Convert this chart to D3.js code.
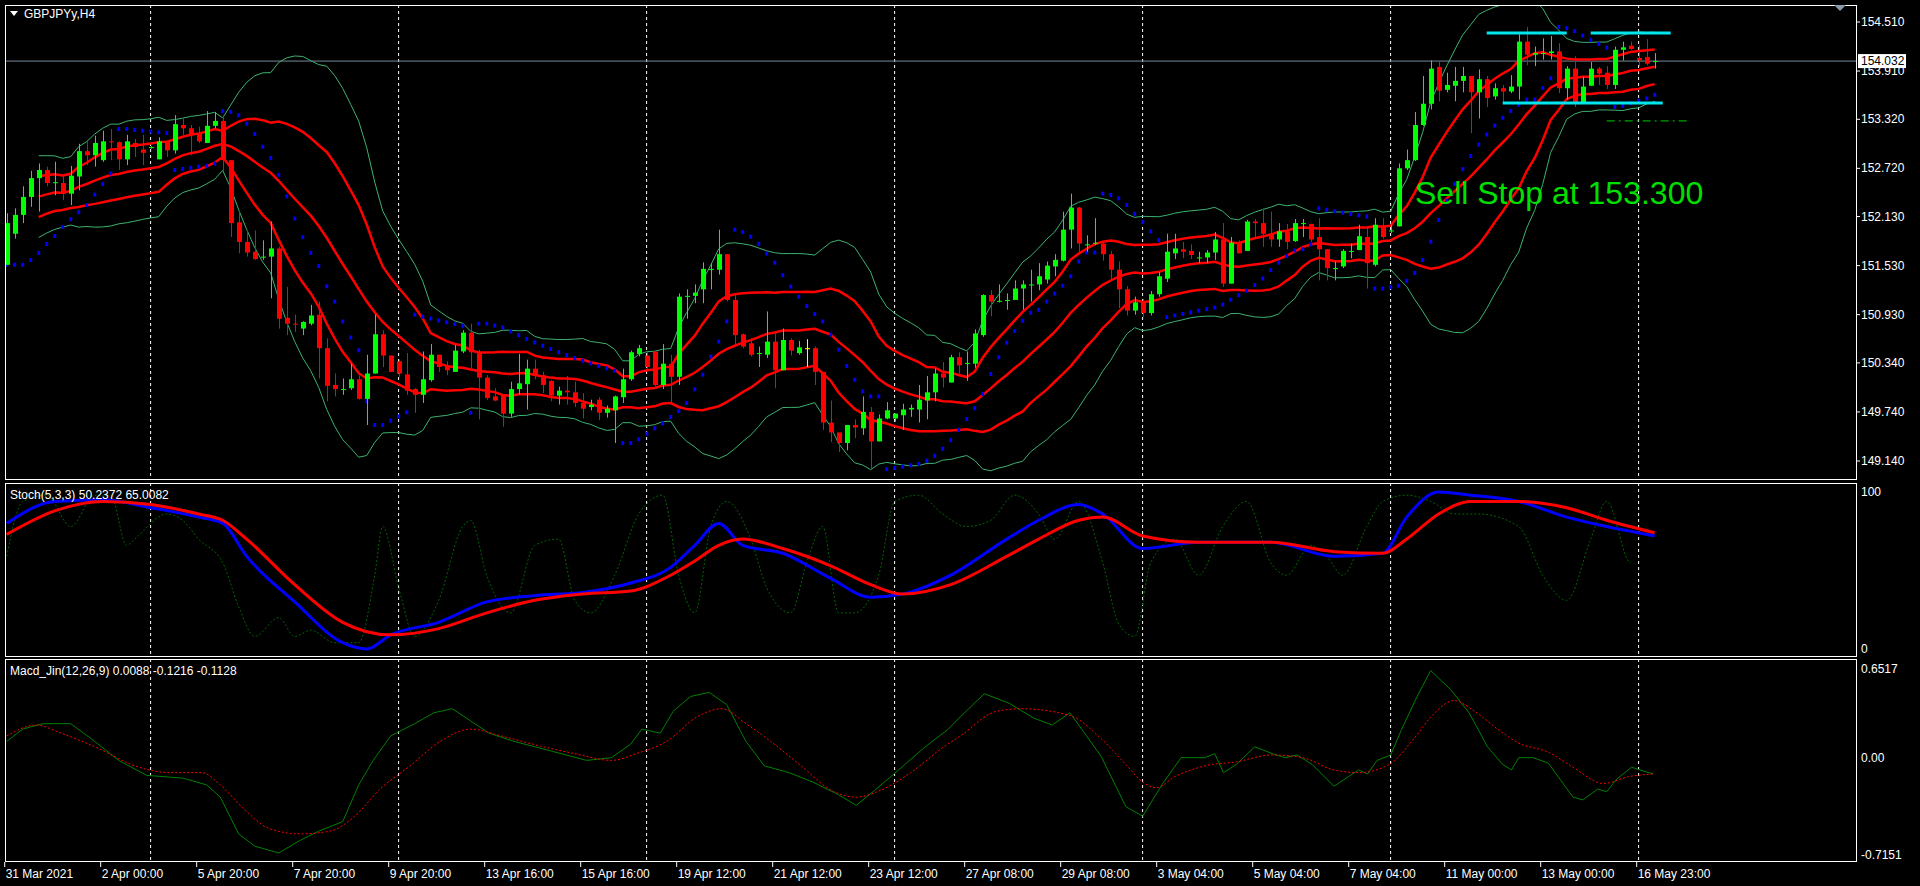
<!DOCTYPE html>
<html><head><meta charset="utf-8">
<script src="https://cdn.jsdelivr.net/npm/d3@7/dist/d3.min.js"></script>
<style>html,body{margin:0;padding:0;background:#000;overflow:hidden}svg{display:block}text{font-family:"Liberation Sans",Arial,sans-serif}</style>
</head><body><svg id="c" width="1920" height="886"></svg>
<script>
const opens=[151.54,151.92,152.15,152.37,152.60,152.70,152.54,152.54,152.41,152.62,
152.93,152.88,152.82,153.05,153.04,152.83,153.03,152.95,152.98,152.83,
153.05,152.94,153.25,153.21,153.14,153.03,153.24,153.30,152.82,152.06,
151.82,151.70,151.63,151.64,151.74,150.89,150.82,150.76,150.82,150.93,
150.52,150.07,150.01,150.03,150.14,149.90,150.21,150.69,150.43,150.36,
150.20,150.02,149.95,150.13,150.44,150.30,150.23,150.48,150.71,150.47,
150.16,149.93,149.94,149.72,150.02,150.08,150.27,150.19,150.12,149.94,
150.00,149.98,149.85,149.80,149.89,149.73,149.76,149.92,150.14,150.45,
150.43,150.48,150.07,150.33,150.17,151.15,151.16,151.24,151.49,151.48,
151.67,151.11,150.69,150.58,150.46,150.44,150.60,150.25,150.62,150.46,
150.52,150.52,150.23,149.61,149.49,149.36,149.58,149.54,149.74,149.38,
149.66,149.66,149.70,149.77,149.77,149.88,149.98,150.21,150.10,150.41,
150.34,150.33,150.68,151.17,151.10,151.11,151.11,151.25,151.30,151.30,
151.36,151.52,151.59,151.97,152.24,151.79,151.80,151.80,151.67,151.48,
151.24,150.98,151.08,150.95,151.18,151.37,151.68,151.73,151.71,151.62,
151.63,151.69,151.85,151.31,151.82,151.71,152.07,152.05,151.92,151.85,
151.95,151.83,152.05,152.04,151.88,151.73,151.50,151.52,151.71,151.72,
151.88,151.54,152.01,151.96,152.01,152.72,152.82,153.25,153.51,153.96,
153.68,153.73,153.79,153.85,153.65,153.81,153.60,153.70,153.66,153.72,
154.27,154.11,154.13,154.13,154.15,153.70,153.94,153.52,153.73,153.94,
153.89,153.74,154.17,154.22,154.07,154.08,154.03];
const closes=[152.05,152.15,152.37,152.60,152.70,152.54,152.55,152.41,152.63,152.93,
152.88,153.03,153.05,153.04,152.83,153.05,152.98,152.91,152.98,153.05,
152.94,153.26,153.21,153.14,153.05,153.24,153.30,152.82,152.05,151.82,
151.69,151.61,151.64,151.74,150.88,150.82,150.81,150.84,150.92,150.52,
150.06,150.02,150.02,150.14,149.90,150.21,150.69,150.43,150.23,150.21,
150.00,149.95,150.14,150.44,150.29,150.25,150.49,150.71,150.47,150.16,
149.91,149.88,149.72,150.02,150.09,150.27,150.19,150.07,149.94,150.00,
149.98,149.85,149.78,149.83,149.73,149.78,149.93,150.14,150.47,150.52,
150.29,150.07,150.33,150.17,151.15,151.16,151.20,151.49,151.49,151.67,
151.11,150.68,150.54,150.44,150.46,150.60,150.25,150.62,150.49,150.53,
150.52,150.23,149.61,149.49,149.36,149.58,149.55,149.74,149.38,149.66,
149.76,149.72,149.77,149.79,149.89,149.98,150.21,150.16,150.41,150.31,
150.34,150.70,151.17,151.09,151.10,151.11,151.25,151.30,151.30,151.40,
151.53,151.60,151.97,152.24,151.80,151.79,151.81,151.67,151.48,151.24,
150.98,151.08,150.95,151.18,151.40,151.70,151.74,151.70,151.66,151.63,
151.69,151.85,151.31,151.81,151.68,152.07,152.05,151.92,151.85,151.95,
151.82,152.05,152.05,151.85,151.73,151.50,151.50,151.71,151.71,151.89,
151.56,152.03,151.88,151.96,152.72,152.82,153.25,153.51,153.94,153.67,
153.74,153.79,153.85,153.65,153.81,153.58,153.70,153.66,153.72,154.27,
154.11,154.13,154.13,154.15,153.70,153.94,153.52,153.72,153.94,153.88,
153.74,154.17,154.20,154.18,154.04,154.00,154.032];
const highs=[152.17,152.23,152.50,152.69,152.78,152.74,152.80,152.64,152.75,153.02,
153.07,153.12,153.18,153.20,153.05,153.13,153.08,153.13,152.99,153.10,
153.05,153.37,153.33,153.25,153.23,153.42,153.41,153.37,152.82,152.21,
151.96,151.96,151.84,152.07,151.76,151.27,150.93,150.85,151.05,151.09,
150.64,150.21,150.15,150.33,150.19,150.44,150.93,150.74,150.43,150.38,
150.46,150.03,150.48,150.57,150.44,150.36,150.56,150.74,150.82,150.50,
150.19,150.03,149.95,150.11,150.45,150.38,150.38,150.23,150.13,150.05,
150.18,150.11,149.97,149.89,149.92,149.82,149.94,150.27,150.49,150.56,
150.48,150.49,150.57,150.44,151.19,151.24,151.30,151.57,151.56,151.97,
151.67,151.19,150.70,150.64,150.54,150.97,150.70,150.76,150.64,150.61,
150.63,150.54,150.23,149.88,149.48,149.58,149.65,149.93,149.80,149.71,
149.86,149.72,149.84,149.83,150.07,150.18,150.27,150.35,150.44,150.47,
150.48,150.75,151.18,151.23,151.30,151.19,151.35,151.35,151.48,151.56,
151.58,151.67,152.19,152.41,152.25,151.90,152.11,151.82,151.71,151.58,
151.28,151.15,151.12,151.22,151.45,151.92,151.92,151.82,151.79,151.70,
151.72,151.94,152.05,151.88,151.84,152.09,152.10,152.23,152.19,152.05,
152.04,152.10,152.10,152.04,152.11,151.73,151.58,151.73,151.80,152.03,
152.01,152.11,152.11,152.03,152.78,152.95,153.41,153.85,154.04,154.03,
153.89,153.96,153.96,153.85,153.93,153.85,153.76,153.74,153.86,154.36,
154.45,154.21,154.31,154.34,154.25,153.97,154.09,153.84,154.02,153.96,
153.97,154.21,154.27,154.27,154.23,154.30,154.13];
const lows=[151.54,151.86,152.05,152.25,152.19,152.50,152.39,152.33,152.27,152.45,
152.76,152.74,152.80,152.82,152.70,152.76,152.86,152.76,152.96,152.83,
152.86,152.90,153.13,152.88,153.03,153.03,153.21,152.68,151.88,151.68,
151.64,151.60,151.60,151.13,150.76,150.68,150.72,150.68,150.80,150.15,
149.87,149.93,149.95,150.01,149.89,149.58,150.21,150.29,150.23,150.17,
149.95,149.73,149.85,150.11,150.23,150.19,150.23,150.46,150.27,149.65,
149.89,149.87,149.56,149.68,149.95,149.77,150.14,149.97,149.87,149.83,
149.83,149.80,149.66,149.76,149.64,149.67,149.36,149.85,150.12,150.42,
150.27,150.05,150.02,149.85,150.07,150.88,151.07,151.07,151.24,151.42,
151.09,150.56,150.52,150.42,150.29,150.40,150.03,150.25,150.43,150.44,
150.29,150.07,149.52,149.37,149.25,149.27,149.42,149.46,149.04,149.38,
149.65,149.62,149.52,149.68,149.61,149.65,149.87,150.04,150.10,150.21,
150.12,150.28,150.66,150.91,151.08,150.99,151.11,150.99,151.09,151.23,
151.31,151.40,151.58,151.74,151.69,151.70,151.78,151.59,151.36,151.01,
150.92,150.93,150.90,150.92,151.15,151.33,151.61,151.62,151.61,151.56,
151.56,151.60,151.27,151.31,151.68,151.71,151.86,151.76,151.76,151.76,
151.73,151.82,151.88,151.82,151.35,151.35,151.35,151.50,151.62,151.72,
151.25,151.52,151.86,151.93,152.01,152.70,152.81,153.24,153.44,153.54,
153.65,153.54,153.65,153.15,153.33,153.47,153.56,153.51,153.64,153.56,
153.98,153.97,154.05,154.05,153.64,153.56,153.47,153.51,153.73,153.74,
153.69,153.69,154.04,154.17,153.97,153.98,153.94];
const highlightBar=100;
// Stochastic (at bar positions)
const stochMainBars=[0,6,12,18,24,27,30,36,42,45,48,54,60,66,72,78,83,86,89,92,97,103,108,112,118,125,129,134,137,142,149,158,166,172,175,179,183,189,195,200,206];
const stochMainVals=[80,94,95,90,84,80,59,30,4,0,9,17,30,34,36,42,52,66,80,66,61,45,33,35,47,70,82,92,86,64,68,68,59,61,84,100,98,94,84,78,72];
const stochSigBars=[0,6,12,18,24,27,30,36,42,48,54,60,66,72,78,83,86,89,92,97,103,108,112,118,125,129,134,137,142,149,158,166,172,175,179,183,189,195,200,206];
const stochSigVals=[73,88,94,92,86,82,70,41,17,9,13,23,31,35,37,47,56,66,70,64,53,41,35,41,59,70,82,84,72,68,68,62,61,70,86,94,94,90,82,74];
const stochFastBars=[0,2,5,8,11,13,15,16,20,22,24,27,29,31,34,36,38,41,44,46,47,49,51,54,57,58,60,63,66,69,71,73,76,79,82,84,86,88,90,93,95,98,100,102,104,106,109,111,114,117,120,123,126,129,131,134,137,139,141,143,146,149,152,155,158,160,163,165,167,170,172,175,178,181,184,189,192,195,198,200,203,206];
const stochFastVals=[59,94,98,78,98,98,66,70,86,82,70,55,27,8,20,8,12,4,4,47,78,39,8,31,78,82,47,23,66,70,31,23,47,86,98,47,23,78,94,70,39,23,55,78,23,23,47,94,98,86,78,82,98,86,70,94,55,16,8,55,70,47,78,94,55,47,66,59,47,78,94,98,94,86,86,78,47,31,70,94,55];
// MACD (at bar positions)
const macdBars=[0,2,4.5,8,11,14,17.5,22,25,26.7,29,31,34,36.6,39,42,44,45.8,48,51,53.4,55.7,58,60.3,63.4,68,72.5,75.6,78,79.4,81.7,83.3,85.5,87.8,90,92.4,94.7,97.8,100.8,103.9,106.2,108.5,111.5,114.6,117.7,119.2,122.2,125.3,128.4,130.7,132.9,136.8,139.9,142,144.5,146.8,149.8,151,152.1,153.7,156,158.2,159.8,161.3,163.2,165.9,169,170.1,171.3,173,174.3,176.3,178,180.5,182.8,185.1,187,188.1,189,190.8,192.7,194.3,195.8,197,198.9,200,201.2,203.1,205.8];
const macdVals=[0.12,0.21,0.25,0.25,0.12,-0.02,-0.13,-0.15,-0.2,-0.29,-0.56,-0.65,-0.70,-0.61,-0.54,-0.47,-0.2,-0.02,0.16,0.25,0.33,0.36,0.27,0.18,0.12,0.05,-0.02,0,0.1,0.21,0.18,0.34,0.45,0.48,0.39,0.12,-0.06,-0.11,-0.18,-0.27,-0.35,-0.24,-0.09,0.07,0.21,0.30,0.47,0.40,0.29,0.24,0.33,0.01,-0.36,-0.43,-0.19,0,0,0.03,-0.11,-0.05,0.08,0.03,0,0.02,-0.05,-0.21,-0.09,-0.12,-0.02,0.02,0.2,0.45,0.64,0.5,0.33,0.08,-0.05,-0.09,0,0,-0.04,-0.17,-0.29,-0.31,-0.23,-0.25,-0.16,-0.07,-0.12];
const signalBars=[0,3.7,6.8,11.4,16,20.6,24.4,26.7,29.7,32.8,36.6,40.4,43.5,46.5,50.4,54.2,58,61.8,66.4,71,75.6,78.7,82.5,86.3,89.4,92.4,95.5,99.3,103.1,106.2,109.2,113,116.9,119.2,123.7,126.8,132.9,136.8,139.9,142,143.7,146,149.8,153.7,158.2,162,165.9,169,172.8,175.9,178.2,180.9,183.5,186.6,188.9,192.7,195.8,199.6,202.7,205.8];
const signalVals=[0.16,0.24,0.18,0.07,-0.06,-0.11,-0.11,-0.2,-0.38,-0.52,-0.56,-0.54,-0.43,-0.24,-0.06,0.12,0.21,0.16,0.09,0.03,-0.02,0.03,0.12,0.3,0.36,0.25,0.12,-0.06,-0.24,-0.29,-0.24,-0.11,0.07,0.16,0.34,0.36,0.31,0.14,-0.05,-0.18,-0.22,-0.14,-0.06,-0.03,0.02,0,-0.09,-0.11,-0.05,0.14,0.31,0.42,0.34,0.2,0.11,0.04,-0.07,-0.19,-0.14,-0.12];
const priceTicks=[154.510,153.910,153.320,152.720,152.130,151.530,150.930,150.340,149.740,149.140];
const dateLabels=["31 Mar 2021","2 Apr 00:00","5 Apr 20:00","7 Apr 20:00","9 Apr 20:00","13 Apr 16:00","15 Apr 16:00","19 Apr 12:00","21 Apr 12:00","23 Apr 12:00","27 Apr 08:00","29 Apr 08:00","3 May 04:00","5 May 04:00","7 May 04:00","11 May 00:00","13 May 00:00","16 May 23:00"];
const currentPrice=154.032;
const sellStop=153.300;
const rangeTop=154.375, rangeBottom=153.52;
const macdTicks=[0.6517,0.00,-0.7151];
const stochTicks=[100,0];

const N=closes.length;
const svg=d3.select("#c");
const L=6,R=1856;
const P={main:[5,480],sto:[483,657],mac:[659,862]};
const x=d3.scaleLinear().domain([0,N-1]).range([6.7,6.7+8*(N-1)]);
const y=d3.scaleLinear().domain([154.51,149.14]).range([22,461]);
const ys=d3.scaleLinear().domain([0,100]).range([649,492]);
const ym=d3.scaleLinear().domain([0.6517,-0.7151]).range([669,855]);

function bb(period,dev){const m=[],u=[],l=[];for(let i=0;i<N;i++){const s=closes.slice(Math.max(0,i-period+1),i+1);const a=d3.mean(s);const sd=Math.sqrt(d3.mean(s,v=>(v-a)*(v-a)));m.push(a);u.push(a+dev*sd);l.push(a-dev*sd);}return {m,u,l};}
const bb2=bb(20,2), bb1=bb(20,1);
const sar=[];{let up=true,s=lows[0],ep=highs[0],af=0.02;sar.push(s);
for(let i=1;i<N;i++){s=s+af*(ep-s);
 if(up){s=Math.min(s,lows[i-1],i>1?lows[i-2]:lows[i-1]);
  if(lows[i]<s){up=false;s=ep;ep=lows[i];af=0.02;}else if(highs[i]>ep){ep=highs[i];af=Math.min(af+0.02,0.2);}}
 else{s=Math.max(s,highs[i-1],i>1?highs[i-2]:highs[i-1]);
  if(highs[i]>s){up=true;s=ep;ep=highs[i];af=0.02;}else if(lows[i]<ep){ep=lows[i];af=Math.min(af+0.02,0.2);}}
 sar.push(s);}}

const defs=svg.append("defs");
Object.entries(P).forEach(([k,v])=>defs.append("clipPath").attr("id","cp"+k).append("rect").attr("x",L).attr("y",v[0]).attr("width",R-L).attr("height",v[1]-v[0]));
const gridX=d3.range(150.6,R,248);
Object.entries(P).forEach(([k,v])=>{svg.append("g").selectAll("line").data(gridX).join("line").attr("x1",d=>d).attr("x2",d=>d).attr("y1",v[0]).attr("y2",v[1]).attr("stroke","#fff").attr("stroke-dasharray","3,3").attr("stroke-width",1);});

const gm=svg.append("g").attr("clip-path","url(#cpmain)");
gm.append("line").attr("x1",L).attr("x2",R).attr("y1",y(currentPrice)).attr("y2",y(currentPrice)).attr("stroke","#778899");
const line=(arr,sc,st)=>d3.line().x((d,i)=>x(i+st)).y(d=>sc(d))(arr.slice(st));
const pline=(bars,vals,sc,curve)=>d3.line().curve(curve||d3.curveLinear).x((d,i)=>x(d)).y((d,i)=>sc(vals[i]))(bars);
const ST=4;
[bb2.u,bb2.l].forEach(a=>gm.append("path").attr("d",line(a,y,ST)).attr("fill","none").attr("stroke","#3cb371").attr("stroke-width",1));
[bb1.u,bb1.m,bb1.l].forEach(a=>gm.append("path").attr("d",line(a,y,ST)).attr("fill","none").attr("stroke","#ff0000").attr("stroke-width",2.5));
gm.append("g").selectAll("rect").data(sar).join("rect").attr("x",(d,i)=>x(i)-1.5).attr("y",d=>y(d)-2).attr("width",3).attr("height",4).attr("fill","#0000ff");
const cg=gm.append("g");
for(let i=0;i<N;i++){const o=opens[i],c=closes[i];const col=i===highlightBar?"#ffff00":(c>=o?"#00ff00":"#ff0000");const cx=Math.round(x(i))+0.5;
 cg.append("line").attr("x1",cx).attr("x2",cx).attr("y1",y(highs[i])).attr("y2",y(lows[i])).attr("stroke",col);
 const t=y(Math.max(o,c)),b=y(Math.min(o,c));cg.append("rect").attr("x",cx-2.5).attr("y",t).attr("width",5).attr("height",Math.max(1,b-t)).attr("fill",col);}
gm.append("line").attr("x1",x(185)).attr("x2",x(195)).attr("y1",y(rangeTop)).attr("y2",y(rangeTop)).attr("stroke","#00e5ee").attr("stroke-width",3);
gm.append("line").attr("x1",x(198)).attr("x2",x(208)).attr("y1",y(rangeTop)).attr("y2",y(rangeTop)).attr("stroke","#00e5ee").attr("stroke-width",3);
gm.append("line").attr("x1",x(187)).attr("x2",x(207)).attr("y1",y(rangeBottom)).attr("y2",y(rangeBottom)).attr("stroke","#00e5ee").attr("stroke-width",3);
gm.append("line").attr("x1",x(200)).attr("x2",x(210)).attr("y1",y(sellStop)).attr("y2",y(sellStop)).attr("stroke","#00cc00").attr("stroke-dasharray","8,4,2,4");
gm.append("text").attr("x",1415).attr("y",204).attr("fill","#00e000").attr("font-size",32).text("Sell Stop at "+sellStop.toFixed(3));
svg.append("path").attr("d","M10,11 L18,11 L14,16 Z").attr("fill","#fff");
svg.append("text").attr("x",24).attr("y",18).attr("fill","#fff").attr("font-size",12).text("GBPJPYy,H4");

const gs=svg.append("g").attr("clip-path","url(#cpsto)");
gs.append("path").attr("d",pline(stochFastBars,stochFastVals,ys,d3.curveMonotoneX)).attr("fill","none").attr("stroke","#006400").attr("stroke-dasharray","2,2");
gs.append("path").attr("d",pline(stochMainBars,stochMainVals,ys,d3.curveMonotoneX)).attr("fill","none").attr("stroke","#0000ff").attr("stroke-width",3);
gs.append("path").attr("d",pline(stochSigBars,stochSigVals,ys,d3.curveMonotoneX)).attr("fill","none").attr("stroke","#ff0000").attr("stroke-width",3);
svg.append("text").attr("x",10).attr("y",499).attr("fill","#fff").attr("font-size",12).text("Stoch(5,3,3) 50.2372 65.0082");
const gM=svg.append("g").attr("clip-path","url(#cpmac)");
gM.append("path").attr("d",pline(macdBars,macdVals,ym)).attr("fill","none").attr("stroke","#008000").attr("stroke-width",1);
gM.append("path").attr("d",pline(signalBars,signalVals,ym,d3.curveMonotoneX)).attr("fill","none").attr("stroke","#ff0000").attr("stroke-dasharray","2,2");
svg.append("text").attr("x",10).attr("y",675).attr("fill","#fff").attr("font-size",12).text("Macd_Jin(12,26,9) 0.0088 -0.1216 -0.1128");

Object.values(P).forEach(v=>svg.append("rect").attr("x",L-0.5).attr("y",v[0]+0.5).attr("width",R-L+1).attr("height",v[1]-v[0]-1).attr("fill","none").attr("stroke","#fff"));
const ra=svg.append("g");
priceTicks.forEach(p=>{ra.append("line").attr("x1",R).attr("x2",R+4).attr("y1",y(p)).attr("y2",y(p)).attr("stroke","#fff");ra.append("text").attr("x",R+5).attr("y",y(p)+4).attr("fill","#fff").attr("font-size",12).text(p.toFixed(3));});
ra.append("rect").attr("x",R+2).attr("y",y(currentPrice)-7).attr("width",48).attr("height",14).attr("fill","#fff");
ra.append("text").attr("x",R+5).attr("y",y(currentPrice)+4).attr("fill","#000").attr("font-size",12).text(currentPrice.toFixed(3));
stochTicks.forEach(v=>ra.append("text").attr("x",R+5).attr("y",ys(v)+4).attr("fill","#fff").attr("font-size",12).text(v));
macdTicks.forEach((v,i)=>ra.append("text").attr("x",R+5).attr("y",ym(v)+4).attr("fill","#fff").attr("font-size",12).text(i===1?"0.00":v.toFixed(4)));
svg.append("path").attr("d","M1834,5 L1846,5 L1840,11 Z").attr("fill","#8899aa");
dateLabels.forEach((t,k)=>{const xx=x(12*k)-2;svg.append("line").attr("x1",xx).attr("x2",xx).attr("y1",862).attr("y2",867).attr("stroke","#fff");svg.append("text").attr("x",xx+1).attr("y",878).attr("fill","#fff").attr("font-size",12).text(t);});
</script></body></html>
